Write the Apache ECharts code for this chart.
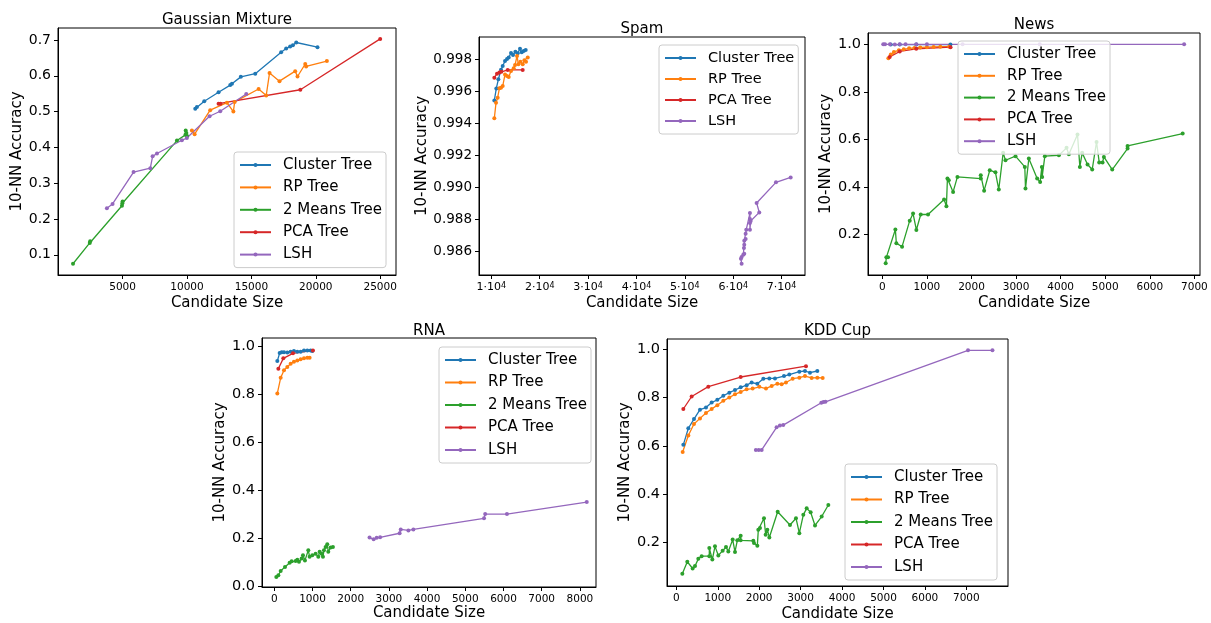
<!DOCTYPE html>
<html>
<head>
<meta charset="utf-8">
<script src="https://cdn.jsdelivr.net/npm/echarts@6/dist/echarts.min.js"></script>
<style>
  html, body { margin: 0; padding: 0; background: #fff; }
  #chart { width: 1211px; height: 623px; }
</style>
</head>
<body>
<div id="chart"></div>
<script>
var fontFamily = 'DejaVu Sans';
var methodNames = ['Cluster Tree', 'RP Tree', '2 Means Tree', 'PCA Tree', 'LSH'];
var methodColors = ['#1f77b4', '#ff7f0e', '#2ca02c', '#d62728', '#9467bd'];

// Gaussian Mixture
var gmXTicks = [5000, 10000, 15000, 20000, 25000];
var gmYTicks = [0.1, 0.2, 0.3, 0.4, 0.5, 0.6, 0.7];
var gmCluster = [[10640, 0.508], [10770, 0.513], [11340, 0.529], [12450, 0.554], [13360, 0.574], [13490, 0.578], [14180, 0.597], [15300, 0.606], [17310, 0.666], [17700, 0.676], [18010, 0.682], [18220, 0.685], [18480, 0.693], [20130, 0.680]];
var gmRP = [[10380, 0.447], [10590, 0.437], [11800, 0.504], [13100, 0.525], [13600, 0.500], [13700, 0.527], [15560, 0.563], [16150, 0.545], [16410, 0.608], [17180, 0.585], [18400, 0.613], [18580, 0.598], [19180, 0.633], [19250, 0.626], [20860, 0.641]];
var gmMeans = [[1150, 0.075], [2450, 0.133], [2480, 0.138], [4950, 0.237], [4980, 0.244], [5000, 0.249], [9220, 0.419], [9880, 0.435], [9900, 0.447], [9950, 0.440], [10000, 0.432]];
var gmPCA = [[12450, 0.522], [12600, 0.522], [18800, 0.561], [25000, 0.703]];
var gmLSH = [[3780, 0.230], [4220, 0.242], [5850, 0.331], [7150, 0.342], [7330, 0.375], [7670, 0.383], [9600, 0.420], [9990, 0.426], [11750, 0.487], [12580, 0.501], [14600, 0.549]];

// Spam
var spamXTicks = [10000, 20000, 30000, 40000, 50000, 60000, 70000];
var spamYTicks = [0.986, 0.988, 0.990, 0.992, 0.994, 0.996, 0.998];
var spamCluster = [[10620, 0.99545], [11030, 0.99620], [11450, 0.99677], [12000, 0.99737], [12350, 0.99760], [12830, 0.99792], [13240, 0.99804], [13590, 0.99813], [14070, 0.99842], [14480, 0.99829], [14970, 0.99850], [15450, 0.99840], [15930, 0.99869], [16280, 0.99846], [16690, 0.99854], [17100, 0.99861]];
var spamRP = [[10620, 0.99433], [10970, 0.99531], [11310, 0.99562], [11660, 0.99621], [12000, 0.99625], [12350, 0.99635], [12830, 0.99708], [13240, 0.99698], [13590, 0.99691], [14070, 0.99729], [14620, 0.99746], [14900, 0.99767], [15310, 0.99823], [15590, 0.99771], [16000, 0.99787], [16480, 0.99771], [16830, 0.99796], [17170, 0.99787], [17520, 0.99813]];
var spamPCA = [[10620, 0.99687], [11170, 0.99712], [11660, 0.99719], [12070, 0.99724], [13380, 0.99736], [16480, 0.99736]];
var spamLSH = [[61730, 0.98523], [61590, 0.98554], [61730, 0.98565], [62070, 0.98579], [62280, 0.98585], [62210, 0.98621], [62280, 0.98642], [62280, 0.98667], [62560, 0.98677], [62560, 0.98711], [62690, 0.98736], [63450, 0.98840], [63450, 0.98802], [63450, 0.98777], [63450, 0.98736], [63600, 0.98790], [65380, 0.98844], [64830, 0.98903], [68830, 0.99032], [71870, 0.99063]];

// News
var newsXTicks = [0, 1000, 2000, 3000, 4000, 5000, 6000, 7000];
var newsYTicks = [0.2, 0.4, 0.6, 0.8, 1.0];
var newsCluster = [[187, 0.999], [389, 0.999], [763, 0.999], [1527, 0.999]];
var newsRP = [[135, 0.942], [190, 0.957], [260, 0.968], [370, 0.975], [480, 0.979], [600, 0.983], [720, 0.985], [850, 0.987], [1000, 0.988], [1150, 0.989], [1300, 0.990], [1500, 0.990]];
var newsMeans = [[75, 0.080], [90, 0.105], [127, 0.105], [292, 0.222], [314, 0.164], [442, 0.150], [614, 0.259], [689, 0.289], [763, 0.220], [861, 0.285], [1025, 0.285], [1385, 0.348], [1437, 0.320], [1460, 0.436], [1490, 0.429], [1587, 0.380], [1684, 0.443], [2208, 0.436], [2208, 0.450], [2283, 0.385], [2410, 0.471], [2537, 0.462], [2612, 0.390], [2710, 0.544], [2762, 0.513], [2987, 0.530], [3196, 0.485], [3211, 0.394], [3286, 0.520], [3473, 0.436], [3540, 0.422], [3578, 0.485], [3585, 0.443], [3645, 0.530], [3960, 0.534], [4132, 0.565], [4184, 0.538], [4378, 0.621], [4431, 0.485], [4483, 0.544], [4603, 0.495], [4708, 0.474], [4805, 0.590], [4865, 0.504], [4940, 0.504], [4970, 0.527], [5157, 0.474], [5501, 0.562], [5501, 0.573], [6737, 0.625]];
var newsPCA = [[165, 0.947], [390, 0.970], [760, 0.981], [1530, 0.988]];
var newsLSH = [[20, 1.0], [60, 1.0], [170, 1.0], [280, 0.999], [390, 1.0], [520, 1.0], [760, 1.0], [1000, 1.0], [1800, 1.0], [3530, 1.0], [6770, 1.0]];

// RNA
var rnaXTicks = [0, 1000, 2000, 3000, 4000, 5000, 6000, 7000, 8000];
var rnaYTicks = [0.0, 0.2, 0.4, 0.6, 0.8, 1.0];
var rnaCluster = [[78, 0.939], [139, 0.972], [192, 0.975], [253, 0.975], [340, 0.974], [427, 0.978], [514, 0.981], [602, 0.978], [689, 0.978], [776, 0.983], [863, 0.983], [950, 0.983], [994, 0.981]];
var rnaRP = [[78, 0.804], [166, 0.869], [253, 0.901], [340, 0.914], [427, 0.928], [514, 0.936], [602, 0.941], [689, 0.946], [776, 0.950], [863, 0.953], [924, 0.953]];
var rnaMeans = [[52, 0.040], [105, 0.047], [166, 0.065], [279, 0.082], [401, 0.099], [453, 0.106], [558, 0.107], [602, 0.112], [645, 0.103], [715, 0.117], [750, 0.130], [802, 0.109], [889, 0.151], [924, 0.124], [994, 0.130], [1081, 0.137], [1151, 0.124], [1186, 0.145], [1238, 0.137], [1273, 0.124], [1299, 0.151], [1343, 0.165], [1386, 0.176], [1412, 0.145], [1473, 0.163], [1534, 0.165]];
var rnaPCA = [[105, 0.907], [235, 0.950], [488, 0.971], [1011, 0.983]];
var rnaLSH = [[2493, 0.204], [2600, 0.197], [2680, 0.203], [2770, 0.205], [3280, 0.222], [3310, 0.238], [3510, 0.234], [3640, 0.238], [5490, 0.284], [5520, 0.302], [6090, 0.302], [8180, 0.352]];

// KDD Cup
var kddXTicks = [0, 1000, 2000, 3000, 4000, 5000, 6000, 7000];
var kddYTicks = [0.2, 0.4, 0.6, 0.8, 1.0];
var kddCluster = [[169, 0.604], [290, 0.673], [426, 0.711], [571, 0.750], [716, 0.759], [853, 0.780], [990, 0.791], [1134, 0.808], [1279, 0.821], [1416, 0.832], [1553, 0.843], [1697, 0.852], [1818, 0.863], [1955, 0.858], [2100, 0.879], [2245, 0.880], [2381, 0.880], [2599, 0.890], [2727, 0.896], [2969, 0.908], [3105, 0.911], [3226, 0.904], [3403, 0.911]];
var kddRP = [[153, 0.574], [290, 0.643], [426, 0.691], [571, 0.714], [716, 0.736], [853, 0.753], [990, 0.769], [1134, 0.787], [1279, 0.801], [1416, 0.814], [1553, 0.824], [1697, 0.835], [1842, 0.838], [2003, 0.845], [2164, 0.838], [2301, 0.849], [2438, 0.858], [2542, 0.856], [2647, 0.863], [2808, 0.879], [2969, 0.883], [3105, 0.890], [3266, 0.882], [3403, 0.883], [3532, 0.882]];
var kddMeans = [[145, 0.068], [265, 0.118], [394, 0.090], [451, 0.100], [531, 0.130], [611, 0.141], [796, 0.141], [796, 0.175], [869, 0.127], [933, 0.182], [1014, 0.144], [1118, 0.164], [1199, 0.179], [1255, 0.161], [1360, 0.210], [1416, 0.159], [1472, 0.207], [1553, 0.226], [1553, 0.207], [1858, 0.205], [1874, 0.196], [1955, 0.185], [1979, 0.251], [2019, 0.258], [2116, 0.299], [2156, 0.230], [2196, 0.251], [2245, 0.219], [2446, 0.326], [2743, 0.271], [2888, 0.299], [2969, 0.237], [3065, 0.313], [3146, 0.340], [3242, 0.324], [3347, 0.269], [3508, 0.306], [3669, 0.354]];
var kddPCA = [[169, 0.753], [370, 0.805], [772, 0.846], [1553, 0.886], [3129, 0.931]];
var kddLSH = [[1920, 0.583], [1990, 0.583], [2060, 0.583], [2420, 0.677], [2500, 0.684], [2580, 0.686], [3500, 0.779], [3550, 0.782], [3600, 0.783], [7040, 0.997], [7630, 0.997]];

var panels = [
  { title: 'Gaussian Mixture', box: [58, 28, 338, 247], xRange: [-16, 26227], yRange: [0.0435, 0.7335],
    xTicks: gmXTicks, yTicks: gmYTicks, yDigits: 1, data: [gmCluster, gmRP, gmMeans, gmPCA, gmLSH],
    legendPos: [234, 152], legendGap: 4.4, legendFont: 15, yFont: 14, titleTop: 13, yNameGap: 28, xNameGap: 21 },
  { title: 'Spam', box: [479, 37, 326, 238], xRange: [7450, 74830], yRange: [0.98452, 0.99942],
    xTicks: spamXTicks, yTicks: spamYTicks, yDigits: 3, sci: true, data: [spamCluster, spamRP, null, spamPCA, spamLSH],
    legendPos: [659, 45], legendGap: 3, legendFont: 14.5, yFont: 13.5, titleTop: 22, yNameGap: 37, xNameGap: 21 },
  { title: 'News', box: [868, 33, 332, 242], xRange: [-322, 7126], yRange: [0.0308, 1.0476],
    xTicks: newsXTicks, yTicks: newsYTicks, yDigits: 1, data: [newsCluster, newsRP, newsMeans, newsPCA, newsLSH],
    legendPos: [958, 41], legendGap: 3.8, legendFont: 15, yFont: 14.5, titleTop: 18, yNameGap: 26, xNameGap: 21 },
  { title: 'RNA', box: [262, 338, 334, 249], xRange: [-323, 8422], yRange: [-0.0017, 1.0348],
    xTicks: rnaXTicks, yTicks: rnaYTicks, yDigits: 1, data: [rnaCluster, rnaRP, rnaMeans, rnaPCA, rnaLSH],
    legendPos: [439, 347], legendGap: 4.5, legendFont: 15, yFont: 14.5, titleTop: 324, yNameGap: 31, xNameGap: 13 },
  { title: 'KDD Cup', box: [667, 339, 341, 249], xRange: [-225, 8005], yRange: [0.0172, 1.044],
    xTicks: kddXTicks, yTicks: kddYTicks, yDigits: 1, data: [kddCluster, kddRP, kddMeans, kddPCA, kddLSH],
    legendPos: [845, 464], legendGap: 4.5, legendFont: 15, yFont: 14.5, titleTop: 324, yNameGap: 30, xNameGap: 21 }
];

var titles = [], grids = [], xAxes = [], yAxes = [], legends = [], series = [];

panels.forEach(function (p, i) {
  titles.push({
    text: p.title,
    left: p.box[0] + p.box[2] / 2,
    top: p.titleTop,
    textAlign: 'center',
    padding: 0,
    textStyle: { fontFamily: fontFamily, fontSize: 15, fontWeight: 'normal', color: '#000' }
  });
  grids.push({
    left: p.box[0], top: p.box[1], width: p.box[2], height: p.box[3],
    show: true, borderColor: '#000', borderWidth: 1, backgroundColor: 'transparent'
  });
  xAxes.push({
    type: 'value', gridIndex: i, min: p.xRange[0], max: p.xRange[1],
    name: 'Candidate Size', nameLocation: 'middle', nameGap: p.xNameGap,
    nameTextStyle: { fontFamily: fontFamily, fontSize: 15, color: '#000' },
    axisLine: { show: true, onZero: false, lineStyle: { color: '#000', width: 1 } },
    axisTick: { show: true, length: 4, customValues: p.xTicks, lineStyle: { color: '#000' } },
    axisLabel: {
      customValues: p.xTicks, margin: 7, color: '#000', fontFamily: fontFamily, fontSize: 10.5,
      formatter: p.sci ? function (v) { return '{b|' + Math.round(v / 10000) + '·10}{s|4}'; }
                       : function (v) { return String(Math.round(v)); },
      rich: {
        b: { fontFamily: fontFamily, fontSize: 11, color: '#000' },
        s: { fontFamily: fontFamily, fontSize: 8, color: '#000', verticalAlign: 'top' }
      }
    },
    splitLine: { show: false }
  });
  yAxes.push({
    type: 'value', gridIndex: i, min: p.yRange[0], max: p.yRange[1],
    name: '10-NN Accuracy', nameLocation: 'middle', nameGap: p.yNameGap,
    nameTextStyle: { fontFamily: fontFamily, fontSize: 15, color: '#000' },
    axisLine: { show: true, onZero: false, lineStyle: { color: '#000', width: 1 } },
    axisTick: { show: true, length: 4, customValues: p.yTicks, lineStyle: { color: '#000' } },
    axisLabel: {
      customValues: p.yTicks, margin: 7, color: '#000', fontFamily: fontFamily, fontSize: p.yFont,
      formatter: (function (d) { return function (v) { return v.toFixed(d); }; })(p.yDigits)
    },
    splitLine: { show: false }
  });

  var names = [];
  p.data.forEach(function (d, k) {
    if (!d) return;
    names.push(methodNames[k]);
    series.push({
      type: 'line', name: methodNames[k], xAxisIndex: i, yAxisIndex: i,
      data: d, color: methodColors[k],
      symbol: 'circle', symbolSize: 4, showSymbol: true, clip: false,
      lineStyle: { width: 1.3 }, itemStyle: { color: methodColors[k] },
      emphasis: { disabled: true }
    });
  });

  legends.push({
    data: names, orient: 'vertical', left: p.legendPos[0], top: p.legendPos[1],
    padding: [4, 4, 4, 5], itemWidth: 31, itemHeight: 5, itemGap: p.legendGap,
    backgroundColor: 'rgba(255,255,255,0.8)', borderColor: '#cccccc', borderWidth: 1, borderRadius: 3,
    selectedMode: false,
    textStyle: { fontFamily: fontFamily, fontSize: p.legendFont, color: '#000', lineHeight: 18, padding: [0, 0, 0, 7] }
  });
});

var chart = echarts.init(document.getElementById('chart'));
chart.setOption({
  animation: false,
  backgroundColor: '#fff',
  title: titles,
  grid: grids,
  xAxis: xAxes,
  yAxis: yAxes,
  legend: legends,
  series: series
});
</script>
</body>
</html>
